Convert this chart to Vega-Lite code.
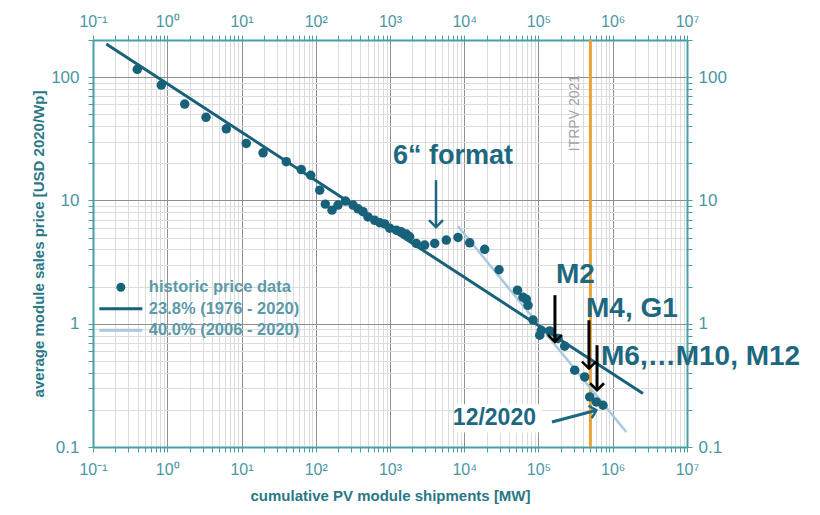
{
  "$schema": "https://vega.github.io/schema/vega-lite/v6.json",
  "width": 594,
  "height": 407,
  "padding": {"left": 31, "top": 13, "right": 5, "bottom": 5},
  "background": "white",
  "config": {
    "view": {"stroke": null},
    "font": "Liberation Sans",
    "axis": {
      "labelFont": "Liberation Sans",
      "labelFontSize": 16,
      "labelColor": "#4a97a3",
      "domainColor": "#45a0a8",
      "domainWidth": 2,
      "tickColor": "#45a0a8",
      "tickWidth": 1,
      "tickSize": 5,
      "labelPadding": 6,
      "titleFont": "Liberation Sans",
      "titleFontSize": 15,
      "titleFontWeight": "bold",
      "titleColor": "#2a7887",
      "labelOverlap": false,
      "labelFlush": false
    }
  },
  "datasets": {
    "hist": [
      {"x": 0.395, "y": 115.6, "series": "historic price data"},
      {"x": 0.832, "y": 86.2, "series": "historic price data"},
      {"x": 1.72, "y": 60.5, "series": "historic price data"},
      {"x": 3.33, "y": 47.2, "series": "historic price data"},
      {"x": 6.24, "y": 38.1, "series": "historic price data"},
      {"x": 11.6, "y": 29.0, "series": "historic price data"},
      {"x": 19.5, "y": 24.3, "series": "historic price data"},
      {"x": 40.1, "y": 20.6, "series": "historic price data"},
      {"x": 63.8, "y": 17.8, "series": "historic price data"},
      {"x": 85.5, "y": 16.0, "series": "historic price data"},
      {"x": 113, "y": 12.1, "series": "historic price data"},
      {"x": 134.5, "y": 9.33, "series": "historic price data"},
      {"x": 165.6, "y": 8.34, "series": "historic price data"},
      {"x": 199.5, "y": 9.16, "series": "historic price data"},
      {"x": 252, "y": 9.87, "series": "historic price data"},
      {"x": 318, "y": 9.16, "series": "historic price data"},
      {"x": 371, "y": 8.55, "series": "historic price data"},
      {"x": 433, "y": 8.1, "series": "historic price data"},
      {"x": 505, "y": 7.35, "series": "historic price data"},
      {"x": 622, "y": 6.9, "series": "historic price data"},
      {"x": 727, "y": 6.6, "series": "historic price data"},
      {"x": 849, "y": 6.45, "series": "historic price data"},
      {"x": 991, "y": 5.95, "series": "historic price data"},
      {"x": 1216, "y": 5.74, "series": "historic price data"},
      {"x": 1419, "y": 5.56, "series": "historic price data"},
      {"x": 1660, "y": 5.33, "series": "historic price data"},
      {"x": 1841, "y": 5.07, "series": "historic price data"},
      {"x": 2260, "y": 4.48, "series": "historic price data"},
      {"x": 2930, "y": 4.34, "series": "historic price data"},
      {"x": 4000, "y": 4.48, "series": "historic price data"},
      {"x": 5730, "y": 4.77, "series": "historic price data"},
      {"x": 8240, "y": 5.01, "series": "historic price data"},
      {"x": 11840, "y": 4.53, "series": "historic price data"},
      {"x": 18840, "y": 4.01, "series": "historic price data"},
      {"x": 29400, "y": 2.74, "series": "historic price data"},
      {"x": 52100, "y": 1.87, "series": "historic price data"},
      {"x": 61800, "y": 1.64, "series": "historic price data"},
      {"x": 68500, "y": 1.58, "series": "historic price data"},
      {"x": 72300, "y": 1.41, "series": "historic price data"},
      {"x": 84400, "y": 1.07, "series": "historic price data"},
      {"x": 103800, "y": 0.807, "series": "historic price data"},
      {"x": 109000, "y": 0.885, "series": "historic price data"},
      {"x": 141500, "y": 0.874, "series": "historic price data"},
      {"x": 183200, "y": 0.759, "series": "historic price data"},
      {"x": 225400, "y": 0.657, "series": "historic price data"},
      {"x": 307400, "y": 0.42, "series": "historic price data"},
      {"x": 419000, "y": 0.37, "series": "historic price data"},
      {"x": 489500, "y": 0.255, "series": "historic price data"},
      {"x": 600700, "y": 0.232, "series": "historic price data"},
      {"x": 739600, "y": 0.218, "series": "historic price data"}
    ],
    "fitDark": [
      {"x": 0.151, "y": 185.7, "series": "23.8% (1976 - 2020)"},
      {"x": 2550000, "y": 0.271, "series": "23.8% (1976 - 2020)"}
    ],
    "fitLight": [
      {"x": 8240, "y": 6.18, "series": "40.0% (2006 - 2020)"},
      {"x": 1520000, "y": 0.1324, "series": "40.0% (2006 - 2020)"}
    ],
    "itrpv": [{"x": 500000}],
    "itrpvText": [{"x": 307000, "y": 51.1, "label": "ITRPV 2021"}],
    "noteCenter": [{"x": 7050, "y": 22.9, "label": "6“ format"}],
    "noteLeft": [
      {"x": 172000, "y": 2.475, "label": "M2"},
      {"x": 436000, "y": 1.31, "label": "M4, G1"},
      {"x": 695000, "y": 0.535, "label": "M6,…M10, M12"}
    ],
    "noteRight": [{"x": 92500, "y": 0.171, "label": "12/2020"}],
    "noteBox": [{"x": 7300, "x2": 112000, "y": 0.222, "y2": 0.131}],
    "arrowBlack": [
      {"x": 166500, "y": 1.703, "x2": 166500, "y2": 0.711},
      {"x": 478600, "y": 1.067, "x2": 478600, "y2": 0.4327},
      {"x": 614000, "y": 0.669, "x2": 614000, "y2": 0.2886}
    ],
    "arrowTealV": [{"x": 4165, "y": 14.6, "x2": 4165, "y2": 6.07}],
    "arrowTealD": [{"x": 152000, "y": 0.1595, "x2": 600000, "y2": 0.1986}]
  },
  "layer": [
    {
      "data": {"name": "noteBox"},
      "mark": {"type": "rect", "color": "#ffffff", "opacity": 1},
      "encoding": {
        "x": {"field": "x", "type": "quantitative", "scale": {"type": "log", "domain": [0.1, 10000000], "nice": false}, "axis": null},
        "x2": {"field": "x2"},
        "y": {"field": "y", "type": "quantitative", "scale": {"type": "log", "domain": [0.1, 200], "nice": false}, "axis": null},
        "y2": {"field": "y2"}
      }
    },
    {
      "data": {"name": "itrpv"},
      "mark": {"type": "rule", "color": "#eba236", "strokeWidth": 3},
      "encoding": {
        "x": {"field": "x", "type": "quantitative", "axis": null}
      }
    },
    {
      "data": {"name": "itrpvText"},
      "mark": {"type": "text", "angle": -90, "fontSize": 14, "color": "#a3a3a3", "align": "center", "baseline": "middle"},
      "encoding": {
        "x": {"field": "x", "type": "quantitative", "axis": null},
        "y": {"field": "y", "type": "quantitative", "axis": null},
        "text": {"field": "label"}
      }
    },
    {
      "data": {"name": "fitLight"},
      "mark": {"type": "line", "strokeWidth": 2.5},
      "encoding": {
        "x": {"field": "x", "type": "quantitative", "axis": null},
        "y": {"field": "y", "type": "quantitative", "axis": null},
        "color": {
          "field": "series", "type": "nominal",
          "scale": {"domain": ["historic price data", "23.8% (1976 - 2020)", "40.0% (2006 - 2020)"], "range": ["#17627a", "#17627a", "#a9c9dd"]},
          "legend": {
            "title": null, "orient": "none", "legendX": 19.6, "legendY": 239, "padding": 0, "rowPadding": 4.5,
            "symbolSize": 400, "labelOffset": 19.7, "labelFontSize": 16.5, "labelFontWeight": "bold", "labelColor": "#5b9aa8", "labelFont": "Liberation Sans",
            "encode": {"symbols": {"update": {
              "shape": {"signal": "datum.value === 'historic price data' ? 'circle' : 'M-2.15,0L2.15,0'"},
              "size": {"signal": "datum.value === 'historic price data' ? 80 : 400"},
              "fill": {"signal": "datum.value === 'historic price data' ? '#17627a' : 'transparent'"},
              "stroke": {"signal": "datum.value === '40.0% (2006 - 2020)' ? '#a9c9dd' : '#17627a'"},
              "strokeWidth": {"signal": "datum.value === 'historic price data' ? 0 : 3"},
              "opacity": {"value": 1}
            }}}
          }
        }
      }
    },
    {
      "data": {"name": "fitDark"},
      "mark": {"type": "line", "strokeWidth": 3},
      "encoding": {
        "x": {
          "field": "x", "type": "quantitative",
          "axis": {
            "orient": "top", "grid": false, "title": null,
            "values": [0.1,0.2,0.3,0.4,0.5,0.6,0.7,0.8,0.9,1,2,3,4,5,6,7,8,9,10,20,30,40,50,60,70,80,90,100,200,300,400,500,600,700,800,900,1000,2000,3000,4000,5000,6000,7000,8000,9000,10000,20000,30000,40000,50000,60000,70000,80000,90000,100000,200000,300000,400000,500000,600000,700000,800000,900000,1000000,2000000,3000000,4000000,5000000,6000000,7000000,8000000,9000000,10000000],
            "labelExpr": "abs(log(datum.value)/LN10 - round(log(datum.value)/LN10)) < 0.001 ? (round(log(datum.value)/LN10) < 0 ? '10⁻¹' : '10' + substring('⁰¹²³⁴⁵⁶⁷', round(log(datum.value)/LN10), round(log(datum.value)/LN10) + 1)) : ''"
          }
        },
        "y": {
          "field": "y", "type": "quantitative",
          "axis": {
            "orient": "right", "grid": false, "title": null, "labelPadding": 6, "labelFontSize": 17,
            "values": [0.1,0.2,0.3,0.4,0.5,0.6,0.7,0.8,0.9,1,2,3,4,5,6,7,8,9,10,20,30,40,50,60,70,80,90,100,200],
            "labelExpr": "abs(log(datum.value)/LN10 - round(log(datum.value)/LN10)) < 0.001 ? format(datum.value, '~g') : ''"
          }
        },
        "color": {
          "field": "series", "type": "nominal",
          "legend": {
            "title": null, "orient": "none", "legendX": 19.6, "legendY": 239, "padding": 0, "rowPadding": 4.5,
            "symbolSize": 400, "labelOffset": 19.7, "labelFontSize": 16.5, "labelFontWeight": "bold", "labelColor": "#5b9aa8", "labelFont": "Liberation Sans",
            "encode": {"symbols": {"update": {
              "shape": {"signal": "datum.value === 'historic price data' ? 'circle' : 'M-2.15,0L2.15,0'"},
              "size": {"signal": "datum.value === 'historic price data' ? 80 : 400"},
              "fill": {"signal": "datum.value === 'historic price data' ? '#17627a' : 'transparent'"},
              "stroke": {"signal": "datum.value === '40.0% (2006 - 2020)' ? '#a9c9dd' : '#17627a'"},
              "strokeWidth": {"signal": "datum.value === 'historic price data' ? 0 : 3"},
              "opacity": {"value": 1}
            }}}
          }
        }
      }
    },
    {
      "data": {"name": "hist"},
      "mark": {"type": "point", "filled": true, "shape": "circle", "size": 90, "opacity": 1},
      "encoding": {
        "x": {
          "field": "x", "type": "quantitative",
          "axis": {
            "orient": "bottom", "grid": true, "title": "cumulative PV module shipments [MW]", "titlePadding": 11, "labelPadding": 9,
            "gridColor": {"condition": {"test": "abs(log(datum.value)/LN10 - round(log(datum.value)/LN10)) < 0.001", "value": "#8f8f8f"}, "value": "#dcdcdc"},
            "values": [0.1,0.2,0.3,0.4,0.5,0.6,0.7,0.8,0.9,1,2,3,4,5,6,7,8,9,10,20,30,40,50,60,70,80,90,100,200,300,400,500,600,700,800,900,1000,2000,3000,4000,5000,6000,7000,8000,9000,10000,20000,30000,40000,50000,60000,70000,80000,90000,100000,200000,300000,400000,500000,600000,700000,800000,900000,1000000,2000000,3000000,4000000,5000000,6000000,7000000,8000000,9000000,10000000],
            "labelExpr": "abs(log(datum.value)/LN10 - round(log(datum.value)/LN10)) < 0.001 ? (round(log(datum.value)/LN10) < 0 ? '10⁻¹' : '10' + substring('⁰¹²³⁴⁵⁶⁷', round(log(datum.value)/LN10), round(log(datum.value)/LN10) + 1)) : ''"
          }
        },
        "y": {
          "field": "y", "type": "quantitative",
          "axis": {
            "orient": "left", "grid": true, "title": "average module sales price [USD 2020/Wp]", "titlePadding": 4, "labelPadding": 9, "labelFontSize": 17,
            "gridColor": {"condition": {"test": "abs(log(datum.value)/LN10 - round(log(datum.value)/LN10)) < 0.001", "value": "#8f8f8f"}, "value": "#dcdcdc"},
            "values": [0.1,0.2,0.3,0.4,0.5,0.6,0.7,0.8,0.9,1,2,3,4,5,6,7,8,9,10,20,30,40,50,60,70,80,90,100,200],
            "labelExpr": "abs(log(datum.value)/LN10 - round(log(datum.value)/LN10)) < 0.001 ? format(datum.value, '~g') : ''"
          }
        },
        "color": {
          "field": "series", "type": "nominal",
          "legend": {
            "title": null, "orient": "none", "legendX": 19.6, "legendY": 239, "padding": 0, "rowPadding": 4.5,
            "symbolSize": 400, "labelOffset": 19.7, "labelFontSize": 16.5, "labelFontWeight": "bold", "labelColor": "#5b9aa8", "labelFont": "Liberation Sans",
            "encode": {"symbols": {"update": {
              "shape": {"signal": "datum.value === 'historic price data' ? 'circle' : 'M-2.15,0L2.15,0'"},
              "size": {"signal": "datum.value === 'historic price data' ? 80 : 400"},
              "fill": {"signal": "datum.value === 'historic price data' ? '#17627a' : 'transparent'"},
              "stroke": {"signal": "datum.value === '40.0% (2006 - 2020)' ? '#a9c9dd' : '#17627a'"},
              "strokeWidth": {"signal": "datum.value === 'historic price data' ? 0 : 3"},
              "opacity": {"value": 1}
            }}}
          }
        }
      }
    },
    {
      "data": {"name": "arrowBlack"},
      "mark": {"type": "rule", "color": "#000000", "strokeWidth": 3},
      "encoding": {
        "x": {"field": "x", "type": "quantitative", "axis": null},
        "x2": {"field": "x2"},
        "y": {"field": "y", "type": "quantitative", "axis": null},
        "y2": {"field": "y2"}
      }
    },
    {
      "data": {"name": "arrowBlack"},
      "mark": {"type": "point", "shape": "M-1,-1L0,0L-1,1", "angle": 90, "filled": false, "size": 196, "strokeWidth": 2.5, "color": "#000000", "opacity": 1},
      "encoding": {
        "x": {"field": "x2", "type": "quantitative", "axis": null},
        "y": {"field": "y2", "type": "quantitative", "axis": null}
      }
    },
    {
      "data": {"name": "arrowTealV"},
      "mark": {"type": "rule", "color": "#1d6880", "strokeWidth": 2.5},
      "encoding": {
        "x": {"field": "x", "type": "quantitative", "axis": null},
        "x2": {"field": "x2"},
        "y": {"field": "y", "type": "quantitative", "axis": null},
        "y2": {"field": "y2"}
      }
    },
    {
      "data": {"name": "arrowTealV"},
      "mark": {"type": "point", "shape": "M-1,-1L0,0L-1,1", "angle": 90, "filled": false, "size": 196, "strokeWidth": 2.5, "color": "#1d6880", "opacity": 1},
      "encoding": {
        "x": {"field": "x2", "type": "quantitative", "axis": null},
        "y": {"field": "y2", "type": "quantitative", "axis": null}
      }
    },
    {
      "data": {"name": "arrowTealD"},
      "mark": {"type": "rule", "color": "#1d6880", "strokeWidth": 3},
      "encoding": {
        "x": {"field": "x", "type": "quantitative", "axis": null},
        "x2": {"field": "x2"},
        "y": {"field": "y", "type": "quantitative", "axis": null},
        "y2": {"field": "y2"}
      }
    },
    {
      "data": {"name": "arrowTealD"},
      "mark": {"type": "point", "shape": "M-1,-1L0,0L-1,1", "angle": -15, "filled": false, "size": 160, "strokeWidth": 2.5, "color": "#1d6880", "opacity": 1},
      "encoding": {
        "x": {"field": "x2", "type": "quantitative", "axis": null},
        "y": {"field": "y2", "type": "quantitative", "axis": null}
      }
    },
    {
      "data": {"name": "noteCenter"},
      "mark": {"type": "text", "fontSize": 27, "fontWeight": "bold", "color": "#1d6880", "align": "center", "baseline": "middle"},
      "encoding": {
        "x": {"field": "x", "type": "quantitative", "axis": null},
        "y": {"field": "y", "type": "quantitative", "axis": null},
        "text": {"field": "label"}
      }
    },
    {
      "data": {"name": "noteLeft"},
      "mark": {"type": "text", "fontSize": 28, "fontWeight": "bold", "color": "#1d6880", "align": "left", "baseline": "middle"},
      "encoding": {
        "x": {"field": "x", "type": "quantitative", "axis": null},
        "y": {"field": "y", "type": "quantitative", "axis": null},
        "text": {"field": "label"}
      }
    },
    {
      "data": {"name": "noteRight"},
      "mark": {"type": "text", "fontSize": 23, "fontWeight": "bold", "color": "#1d6880", "align": "right", "baseline": "middle"},
      "encoding": {
        "x": {"field": "x", "type": "quantitative", "axis": null},
        "y": {"field": "y", "type": "quantitative", "axis": null},
        "text": {"field": "label"}
      }
    }
  ],
  "resolve": {"axis": {"x": "independent", "y": "independent"}}
}
